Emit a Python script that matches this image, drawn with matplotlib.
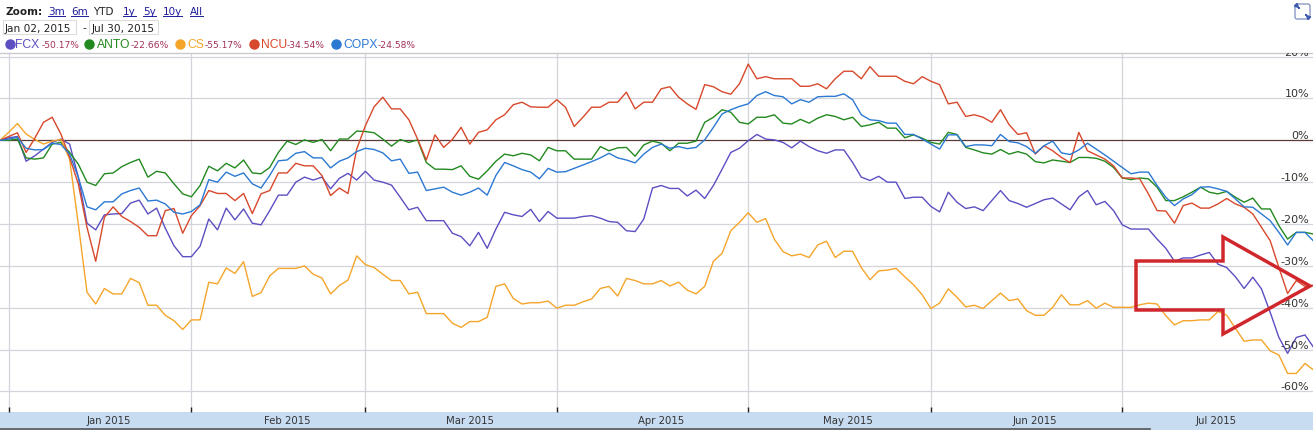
import numpy as np
import matplotlib.pyplot as plt
from matplotlib.patches import Rectangle, Polygon, FancyBboxPatch
import matplotlib.transforms as mtransforms

# =============================================================================
#  YTD performance of copper names (Jan 02 - Jul 30, 2015), % change
# =============================================================================

W, H = 1313, 431

fcx = [0, 0.6, 0.9, -5.0, -3.7, -2.1, -0.5, 0.3, -0.9, -8.8,
       -19.8, -21.4, -17.8, -17.6, -17.5, -15.0, -14.3, -17.6, -16.2, -21.0,
       -25.2, -27.8, -27.8, -25.3, -18.8, -21.4, -16.2, -19.0, -16.4, -19.8,
       -20.2, -16.8, -13.1, -13.1, -10.0, -8.8, -9.5, -8.8, -11.6, -9.1,
       -7.9, -9.5, -7.4, -9.5, -10.0, -10.7, -13.6, -16.6, -16.0, -19.2,
       -19.2, -19.2, -22.2, -23.0, -25.2, -22.0, -25.8, -21.2, -17.2, -17.8,
       -18.2, -16.5, -19.4, -17.0, -18.6, -18.6, -18.6, -18.2, -18.0, -18.6,
       -19.4, -19.6, -21.6, -21.8, -18.8, -11.4, -10.8, -11.5, -11.5, -13.3,
       -11.9, -13.9, -10.8, -6.9, -2.9, -1.9, -0.1, 1.4, 0.3, 0.1,
       -0.5, -1.8, -0.2, -1.5, -2.5, -3.1, -2.3, -2.3, -5.3, -8.8,
       -9.6, -8.6, -10.0, -10.0, -13.9, -13.6, -13.6, -15.8, -17.1, -12.4,
       -14.8, -16.3, -15.9, -16.8, -14.4, -12.0, -14.4, -15.1, -16.0, -15.1,
       -14.2, -13.8, -15.2, -16.6, -13.5, -12.0, -15.4, -14.6, -16.8, -20.2,
       -21.2, -21.2, -21.2, -23.6, -25.8, -28.9, -28.1, -28.1, -27.4, -26.8,
       -29.6, -30.4, -32.6, -35.4, -32.7, -35.5, -41.1, -47.1, -50.9, -47.1,
       -46.5, -49.5]

anto = [0, 0, 0.3, -4.2, -4.5, -4.2, -0.9, -0.5, -2.9, -5.7,
        -10.0, -10.8, -8.0, -7.8, -6.3, -5.3, -4.5, -8.8, -7.4, -7.8,
        -10.4, -12.8, -13.5, -10.8, -6.2, -7.3, -5.5, -6.6, -4.7, -7.8,
        -8.0, -6.5, -2.9, -0.2, -1.0, 0.1, -0.5, 0.2, -2.5, 0.3,
        0.3, 2.2, 2.1, 1.8, 0.3, -1.4, 0.2, -0.5, 0.1, -5.3,
        -6.9, -6.9, -7.0, -6.1, -8.6, -9.3, -7.3, -5.0, -3.3, -3.7,
        -3.1, -3.5, -4.9, -1.7, -2.5, -2.5, -4.5, -4.5, -4.5, -1.5,
        -2.5, -1.8, -1.7, -3.8, -1.1, -0.2, -0.7, -2.5, -0.7, -0.7,
        -0.2, 4.3, 5.5, 7.3, 6.7, 4.3, 3.9, 5.5, 5.5, 6.1,
        4.1, 3.9, 5.0, 4.1, 5.3, 6.1, 5.7, 4.9, 5.5, 3.3,
        3.7, 4.3, 2.9, 2.9, 0.6, 1.3, 0.5, -0.5, -0.9, 1.9,
        1.4, -1.7, -2.3, -3.0, -3.3, -2.2, -3.3, -2.7, -3.3, -5.1,
        -5.4, -4.7, -5.0, -5.3, -4.1, -4.1, -4.3, -5.0, -6.5, -9.0,
        -9.4, -9.0, -9.2, -11.2, -14.4, -14.4, -13.5, -12.4, -11.2, -12.4,
        -12.8, -12.2, -13.6, -14.8, -13.8, -16.4, -16.4, -20.4, -23.6, -22.0,
        -22.0, -22.4]

cs = [0, 1.9, 4.0, 1.5, 0.2, -0.9, -0.2, 0.2, -4.5, -20.0,
      -36.3, -39.1, -35.4, -36.7, -36.7, -33.0, -34.0, -39.4, -39.4, -41.8,
      -43.1, -45.2, -42.9, -42.9, -33.9, -34.3, -30.5, -31.8, -29.0, -37.3,
      -36.4, -32.4, -30.6, -30.6, -30.6, -30.0, -32.0, -32.9, -36.7, -34.7,
      -33.4, -27.6, -29.7, -30.4, -32.0, -33.5, -33.5, -36.7, -36.3, -41.4,
      -41.4, -41.4, -43.7, -44.7, -43.3, -43.3, -42.3, -34.9, -34.3, -37.8,
      -39.1, -38.8, -38.8, -38.4, -40.1, -39.4, -39.4, -38.6, -37.9, -35.4,
      -34.9, -37.2, -33.0, -33.5, -34.3, -34.3, -33.5, -34.8, -33.9, -35.8,
      -36.7, -34.9, -28.9, -27.0, -21.6, -19.6, -17.3, -19.6, -18.7, -23.6,
      -26.6, -27.6, -27.2, -28.0, -25.0, -24.1, -28.0, -26.5, -26.5, -30.4,
      -33.3, -31.2, -31.0, -30.6, -32.6, -34.5, -36.9, -40.2, -38.9, -35.5,
      -37.5, -39.8, -39.4, -40.2, -38.3, -36.5, -38.3, -37.9, -40.7, -41.8,
      -41.8, -39.9, -36.9, -39.3, -39.3, -38.3, -40.1, -38.9, -39.9, -39.9,
      -39.9, -39.3, -38.9, -39.1, -41.9, -44.1, -43.1, -43.1, -42.9, -42.9,
      -40.9, -41.8, -44.9, -48.0, -47.7, -47.7, -50.3, -51.3, -55.7, -55.7,
      -53.3, -54.9]

ncu = [0, 0.9, 1.8, -2.9, 0.5, 4.3, 5.5, 1.5, -4.1, -10.4,
       -20.8, -28.9, -18.4, -15.9, -18.2, -19.4, -20.8, -22.8, -22.8, -16.8,
       -16.3, -22.2, -18.0, -15.6, -12.0, -12.7, -12.7, -14.4, -12.7, -17.5,
       -12.8, -12.0, -7.8, -7.8, -5.5, -6.1, -6.1, -8.4, -13.2, -11.4,
       -12.7, -2.1, 3.5, 8.0, 10.3, 7.5, 7.5, 4.9, 0.3, -4.7,
       1.3, -1.7, 0.2, 3.1, -0.9, 1.9, 2.5, 4.9, 6.1, 8.5,
       9.1, 8.0, 7.9, 7.9, 9.7, 7.9, 3.3, 5.5, 7.9, 7.9,
       9.1, 9.1, 11.5, 7.5, 9.1, 9.1, 12.3, 12.8, 10.3, 8.7,
       7.4, 13.3, 12.8, 11.6, 11.0, 13.5, 18.2, 14.7, 15.2, 14.7,
       14.7, 14.7, 12.9, 12.9, 13.5, 12.3, 14.7, 16.5, 16.5, 14.7,
       17.6, 15.3, 15.3, 15.3, 14.1, 13.5, 15.2, 14.1, 13.3, 8.7,
       9.1, 5.7, 6.1, 5.5, 4.3, 7.3, 3.7, 1.4, 1.8, -3.3,
       -1.3, -2.5, -4.1, -5.3, 1.9, -2.5, -3.5, -4.5, -6.1, -9.0,
       -9.0, -9.2, -12.8, -16.8, -16.9, -19.8, -15.6, -15.0, -16.2, -16.2,
       -15.2, -13.9, -15.2, -16.0, -17.6, -20.8, -24.0, -30.4, -36.6, -33.5,
       -34.9, -34.6]

copx = [0, 0.3, 0.7, -1.9, -2.3, -2.2, -0.7, -1.0, -3.3, -8.8,
        -15.9, -16.6, -14.7, -14.7, -12.8, -12.0, -11.4, -14.5, -14.3, -15.2,
        -17.2, -17.6, -17.0, -15.4, -9.4, -10.0, -7.6, -8.6, -7.8, -10.4,
        -11.4, -8.4, -4.9, -4.7, -3.1, -2.7, -4.2, -4.2, -6.6, -5.0,
        -4.2, -2.7, -1.9, -2.2, -3.0, -4.9, -4.5, -7.9, -7.6, -12.0,
        -11.6, -11.2, -12.4, -13.1, -12.4, -11.4, -13.1, -8.4, -5.3, -6.1,
        -7.0, -7.6, -9.2, -6.7, -7.6, -7.5, -6.7, -5.9, -5.1, -4.2,
        -3.1, -4.2, -4.7, -5.4, -3.3, -1.7, -0.9, -1.9, -1.5, -2.0,
        -1.7, 0.1, 3.1, 6.3, 7.3, 8.1, 8.7, 10.7, 11.6, 10.7,
        10.4, 8.7, 9.7, 9.1, 10.4, 10.5, 10.5, 11.1, 9.7, 6.1,
        4.9, 4.7, 4.1, 4.1, 1.4, 1.4, 0.3, -0.9, -2.1, 1.3,
        1.3, -1.5, -1.1, -1.1, -1.3, 1.4, -0.3, -0.6, -1.5, -3.1,
        -1.3, -0.2, -3.0, -3.4, -2.3, -0.7, -2.1, -3.5, -5.0, -6.5,
        -8.0, -7.6, -7.6, -10.8, -13.6, -15.6, -14.0, -13.0, -11.2, -11.1,
        -11.6, -12.2, -14.0, -15.9, -16.0, -17.6, -19.2, -22.0, -25.0, -22.0,
        -22.0, -24.1]

names = ['FCX', 'ANTO', 'CS', 'NCU', 'COPX']
changes = ['-50.17%', '-22.66%', '-55.17%', '-34.54%', '-24.58%']
colors = ['#5b4fc2', '#22891f', '#f4a52a', '#d8482b', '#2b79d3']

month_idx = [1, 22, 42, 64, 86, 107, 129]          # first session of each month
band_labels = ['Jan 2015', 'Feb 2015', 'Mar 2015', 'Apr 2015',
               'May 2015', 'Jun 2015', 'Jul 2015']
band_label_idx = [12.5, 33, 54, 76, 97.5, 119, 139.8]
yticks = [20, 10, 0, -10, -20, -30, -40, -50, -60]
zoom_links = ['3m', '6m', 'YTD', '1y', '5y', '10y', 'All']

# ---- figure / pixel helpers --------------------------------------------------
fig = plt.figure(figsize=(W / 100, H / 100), dpi=100)
fig.patch.set_facecolor('white')

def fy(y):
    return 1 - y / H

PLOT_TOP, PLOT_BOT = 54, 413
PX_PER_PCT = 4.186
ZERO_Y = 141.3

ax = fig.add_axes([0, fy(PLOT_BOT), 1, (PLOT_BOT - PLOT_TOP) / H])
ax.set_xlim(0, W / 8.7)
ax.set_ylim(-(PLOT_BOT - ZERO_Y) / PX_PER_PCT, (ZERO_Y - PLOT_TOP) / PX_PER_PCT)
for s in ['left', 'right', 'bottom']:
    ax.spines[s].set_visible(False)
ax.spines['top'].set_color('#c9c9cf')
ax.spines['top'].set_linewidth(1.0)
ax.set_xticks([])
ax.set_yticks([])

for v in yticks:
    if v != 0:
        ax.axhline(v, color='#d4d4dd', lw=0.9, zorder=1)
for m in month_idx:
    ax.axvline(m, color='#d4d4dd', lw=0.9, zorder=1)
ax.axhline(0, color='#5a3a38', lw=0.9, zorder=2)

x = np.arange(len(fcx))
for vals, c in zip([fcx, anto, cs, ncu, copx], colors):
    ax.plot(x, vals, color=c, lw=1.0, zorder=3)

trans = mtransforms.blended_transform_factory(ax.transAxes, ax.transData)
for v in yticks:
    t = ax.text(1309 / W, v + 5 / PX_PER_PCT, f'{v}%', transform=trans,
                ha='right', va='center', fontsize=8, color='#333333',
                family='DejaVu Sans', zorder=5)
    t.set_clip_on(True)

# ---- bottom navigator band ----------------------------------------------------
band = fig.add_axes([0, 0, 1, (H - PLOT_BOT) / H])
band.set_xlim(ax.get_xlim())
band.set_ylim(0, 1)
band.set_facecolor('#c7dcf1')
for s in band.spines.values():
    s.set_visible(False)
band.set_yticks([])
band.set_xticks(month_idx)
band.tick_params(axis='x', top=True, bottom=False, labeltop=False,
                 labelbottom=False, direction='out', length=3.5,
                 width=1.0, color='#222222')
for lab, pos in zip(band_labels, band_label_idx):
    band.text(pos, 0.55, lab, ha='center', va='center', fontsize=7.3,
              color='#333333', family='DejaVu Sans')
band.axhline(0.04, xmin=0, xmax=1150 / W, color='#555555', lw=1.2)

# ---- overlay in pixel coordinates for the header and the arrow ---------------
ov = fig.add_axes([0, 0, 1, 1])
ov.set_xlim(0, W)
ov.set_ylim(H, 0)
ov.axis('off')

ov.text(5, 12, 'Zoom:', fontsize=7.5, fontweight='bold', color='#222222',
        ha='left', va='center', family='DejaVu Sans')
link_x = [48, 71, 93, 123, 143, 163, 190]
fig.canvas.draw()
renderer = fig.canvas.get_renderer()
inv = ov.transData.inverted()
for lab, lx in zip(zoom_links, link_x):
    c = '#222222' if lab == 'YTD' else '#1d1d9c'
    t = ov.text(lx, 12, lab, fontsize=7.5, color=c, ha='left', va='center',
                family='DejaVu Sans')
    if lab != 'YTD':
        bb = t.get_window_extent(renderer)
        x0, _ = inv.transform((bb.x0, bb.y0))
        x1, _ = inv.transform((bb.x1, bb.y0))
        ov.plot([x0, x1], [17.2, 17.2], color=c, lw=0.7)

ov.add_patch(Rectangle((3, 21), 73, 14, fill=False, ec='#dcdcdc', lw=0.8))
ov.add_patch(Rectangle((89, 21), 69, 14, fill=False, ec='#dcdcdc', lw=0.8))
ov.text(5, 28.5, 'Jan 02, 2015', fontsize=7.6, color='#222222', ha='left',
        va='center', family='DejaVu Sans')
ov.text(82, 28, '-', fontsize=7.6, color='#222222', ha='left', va='center',
        family='DejaVu Sans')
ov.text(92, 28.5, 'Jul 30, 2015', fontsize=7.6, color='#222222', ha='left',
        va='center', family='DejaVu Sans')

dot_x = [10, 89, 180, 254, 336]
name_x = [15, 97, 187, 261, 343]
chg_x = [42, 131, 205, 287, 378]
for n, chg, c, dx, nx, cx in zip(names, changes, colors, dot_x, name_x, chg_x):
    ov.plot(dx, 45, 'o', ms=6.5, color=c, mec=c)
    ov.text(nx, 45.5, n, fontsize=8.7, color=c, ha='left', va='center',
            family='Liberation Sans')
    ov.text(cx, 46, chg, fontsize=6.6, color='#a2305a', ha='left', va='center',
            family='DejaVu Sans')

# collapse icon at the top right
ov.add_patch(FancyBboxPatch((1295, 5), 15, 15, boxstyle='round,pad=0,rounding_size=2',
                            fill=False, ec='#7f8fbf', lw=0.9))
ov.annotate('', xy=(1301.5, 11.5), xytext=(1297, 7),
            arrowprops=dict(arrowstyle='-|>', color='#3c5bb0', lw=1.2,
                            mutation_scale=6))
ov.annotate('', xy=(1303.5, 13.5), xytext=(1308, 18),
            arrowprops=dict(arrowstyle='-|>', color='#3c5bb0', lw=1.2,
                            mutation_scale=6))

# big red outline arrow
arrow = [(1136, 262), (1223, 262), (1223, 238), (1310, 287),
         (1223, 335), (1223, 311), (1136, 311)]
ov.add_patch(Polygon(arrow, closed=True, fill=False, ec='#d0272d', lw=2.5,
                     joinstyle='miter'))

fig.savefig('out.png', dpi=100)
